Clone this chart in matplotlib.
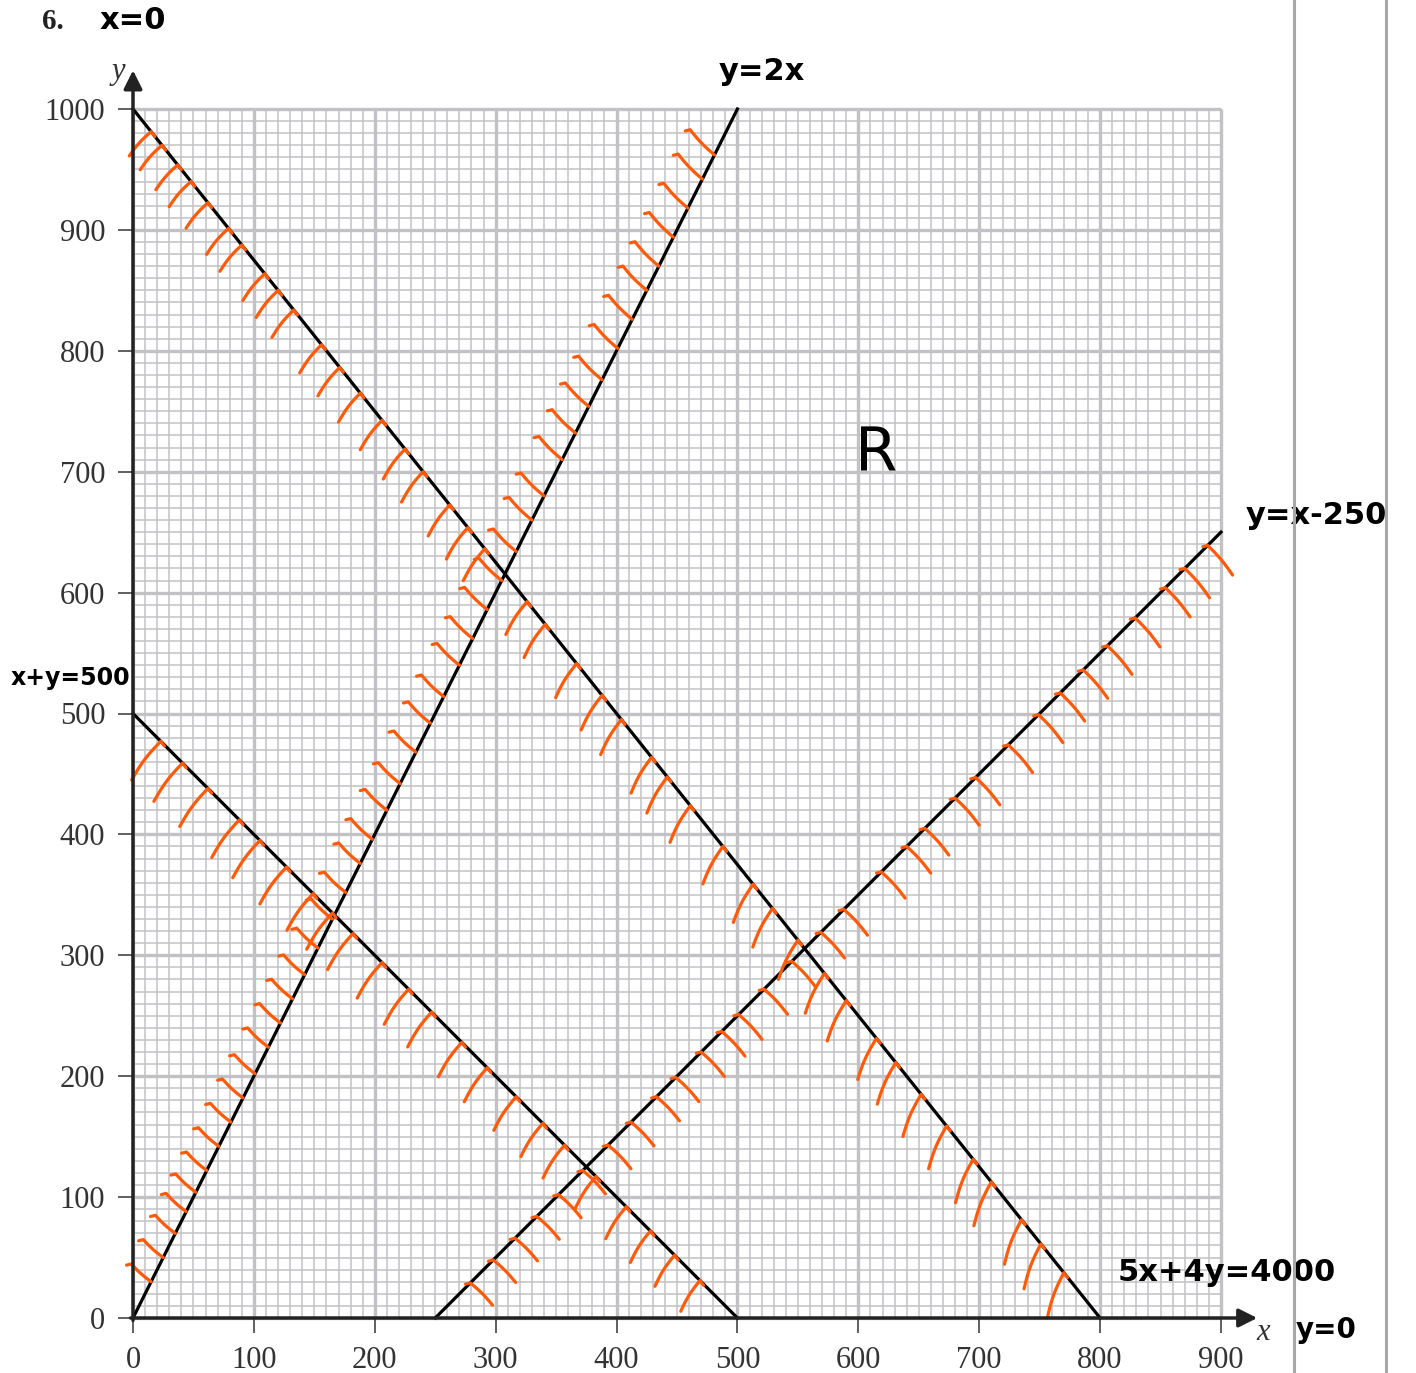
import numpy as np
import matplotlib
matplotlib.use("Agg")
import matplotlib.pyplot as plt
from matplotlib.lines import Line2D

# ---- data ----
x_ticks = [0, 100, 200, 300, 400, 500, 600, 700, 800, 900]
y_ticks = [0, 100, 200, 300, 400, 500, 600, 700, 800, 900, 1000]

# boundary lines: (x start, x end) for each equation
line_2x = (0, 500)          # y = 2x
line_sum = (0, 500)         # x + y = 500
line_5x4y = (0, 800)        # 5x + 4y = 4000
line_xm250 = (250, 900)     # y = x - 250

# x positions (along each line) where the orange shading strokes touch it
hatch_2x = [15, 25, 35, 44, 52, 61, 71, 81, 91, 101, 112, 122, 132, 142, 153,
            165, 176, 188, 198, 210, 221, 234, 246, 257, 270, 281, 293, 305,
            317, 330, 340, 355, 366, 377, 388, 401, 413, 425, 435, 447, 459,
            471, 481]
hatch_sum = [23, 41, 62, 88, 105, 127, 149, 165, 182, 206, 228, 247, 272, 293,
             317, 339, 357, 383, 408, 428, 448, 469]
hatch_5x4y = [15, 24, 37, 48, 62, 79, 90, 109, 120, 133, 156, 171, 188, 206,
              225, 240, 262, 277, 291, 326, 341, 367, 388, 404, 429, 442, 461,
              488, 513, 529, 550, 572, 590, 615, 631, 652, 673, 695, 710, 735,
              751, 770]
hatch_xm250 = [279, 298, 316, 334, 352, 372, 393, 412, 433, 449, 470, 487, 501,
               522, 545, 569, 588, 619, 640, 655, 680, 697, 724, 749, 767, 786,
               806, 829, 854, 870, 889]

ORANGE = "#ff5a0a"
GRID = "#c2c2c6"


def hatch(ax, xs, f, ang0, ang1, len0, len1, bow, hook):
    xs = np.asarray(xs, dtype=float)
    frac = (xs - xs.min()) / (xs.max() - xs.min())
    for x0, t in zip(xs, frac):
        a = np.radians(ang0 + (ang1 - ang0) * t)
        L = len0 + (len1 - len0) * t
        d = np.array([np.cos(a), np.sin(a)])
        n = np.array([-d[1], d[0]])
        A = np.array([x0, f(x0)])
        s = np.linspace(0, 1, 16)
        pts = A + np.outer(s * L, d) + np.outer(bow * L * np.sin(np.pi * s), n)
        if pts[0, 1] >= pts[-1, 1]:
            pts = np.vstack([pts[0] + hook, pts])
        else:
            pts = np.vstack([pts, pts[-1] + hook])
        ax.plot(pts[:, 0], pts[:, 1], color=ORANGE, lw=2.3,
                solid_capstyle="round", solid_joinstyle="round",
                zorder=4, clip_on=False)


fig = plt.figure(figsize=(14.16, 13.73), dpi=100)
ax = fig.add_axes([133 / 1416, 55 / 1373, 1088 / 1416, 1209 / 1373])
ax.set_xlim(0, 900)
ax.set_ylim(0, 1000)

# graph paper
ax.vlines(np.arange(0, 901, 10), 0, 1000, color=GRID, lw=1.1, zorder=1,
          clip_on=False)
ax.hlines(np.arange(0, 1001, 10), 0, 900, color=GRID, lw=1.1, zorder=1,
          clip_on=False)
ax.vlines(x_ticks, 0, 1000, color=GRID, lw=2.4, zorder=1, clip_on=False)
ax.hlines(y_ticks, 0, 900, color=GRID, lw=2.4, zorder=1, clip_on=False)

for s in ax.spines.values():
    s.set_visible(False)

# axes with arrows
ax.annotate("", xy=(0, 1032), xytext=(0, -2),
            arrowprops=dict(arrowstyle="-|>", color="#222222", lw=2.5,
                            mutation_scale=28, shrinkA=0, shrinkB=0),
            annotation_clip=False, zorder=5)
ax.annotate("", xy=(930, 0), xytext=(-2, 0),
            arrowprops=dict(arrowstyle="-|>", color="#222222", lw=2.5,
                            mutation_scale=28, shrinkA=0, shrinkB=0),
            annotation_clip=False, zorder=5)

ax.set_xticks(x_ticks)
ax.set_yticks(y_ticks)
ax.set_xticklabels([str(v) for v in x_ticks])
ax.set_yticklabels([str(v) for v in y_ticks])
ax.tick_params(length=11, width=1.2, color="#444444", pad=9,
               labelsize=22, labelcolor="#333333")
for lab in ax.get_xticklabels() + ax.get_yticklabels():
    lab.set_fontfamily("Liberation Serif")

# boundary lines
xa = np.array(line_2x)
ax.plot(xa, 2 * xa, color="black", lw=2.3, zorder=3, clip_on=False)
xb = np.array(line_sum)
ax.plot(xb, 500 - xb, color="black", lw=2.3, zorder=3, clip_on=False)
xc = np.array(line_5x4y)
ax.plot(xc, (4000 - 5 * xc) / 4, color="black", lw=2.3, zorder=3,
        clip_on=False)
xd = np.array(line_xm250)
ax.plot(xd, xd - 250, color="black", lw=2.3, zorder=3, clip_on=False)

# shading strokes on the rejected side of each line
hatch(ax, hatch_2x, lambda x: 2 * x, 138, 134, 22, 29, 0.03, (-4, -1))
hatch(ax, hatch_sum, lambda x: 500 - x, 233, 238, 40, 30, -0.04, (3, -4))
hatch(ax, hatch_5x4y, lambda x: (4000 - 5 * x) / 4, 228, 250, 27, 40,
      -0.04, (3, -4))
hatch(ax, hatch_xm250, lambda x: x - 250, 315, 310, 26, 32, 0.03, (-4, -1))

# printed labels
ax.text(-66, 1072, "6.", fontsize=21, fontweight="bold",
        fontfamily="Liberation Serif", ha="center", va="center", color="#222")
ax.text(-12, 1031, "y", fontsize=22, style="italic",
        fontfamily="Liberation Serif", ha="center", va="center", color="#333")
ax.text(935, -12, "x", fontsize=22, style="italic",
        fontfamily="Liberation Serif", ha="center", va="center", color="#333")

# handwritten labels
hw = dict(fontfamily="DejaVu Sans", fontweight="bold", color="black",
          ha="center", va="center")
ax.text(0, 1073, "x=0", fontsize=22, **hw)
ax.text(520, 1031, "y=2x", fontsize=22, **hw)
ax.text(979, 664, "y=x-250", fontsize=22, **hw)
ax.text(-52, 529, "x+y=500", fontsize=17, **hw)
ax.text(905, 38, "5x+4y=4000", fontsize=22, **hw)
ax.text(987, -10, "y=0", fontsize=20, **hw)
ax.text(615, 714, "R", fontsize=44, fontfamily="DejaVu Sans", color="black",
        ha="center", va="center")

# page margin lines
for px in (1294, 1386):
    fig.add_artist(Line2D([px / 1416, px / 1416], [0, 1],
                          color="#a8a8a8", lw=2.2))

fig.savefig("out.png", dpi=100)
